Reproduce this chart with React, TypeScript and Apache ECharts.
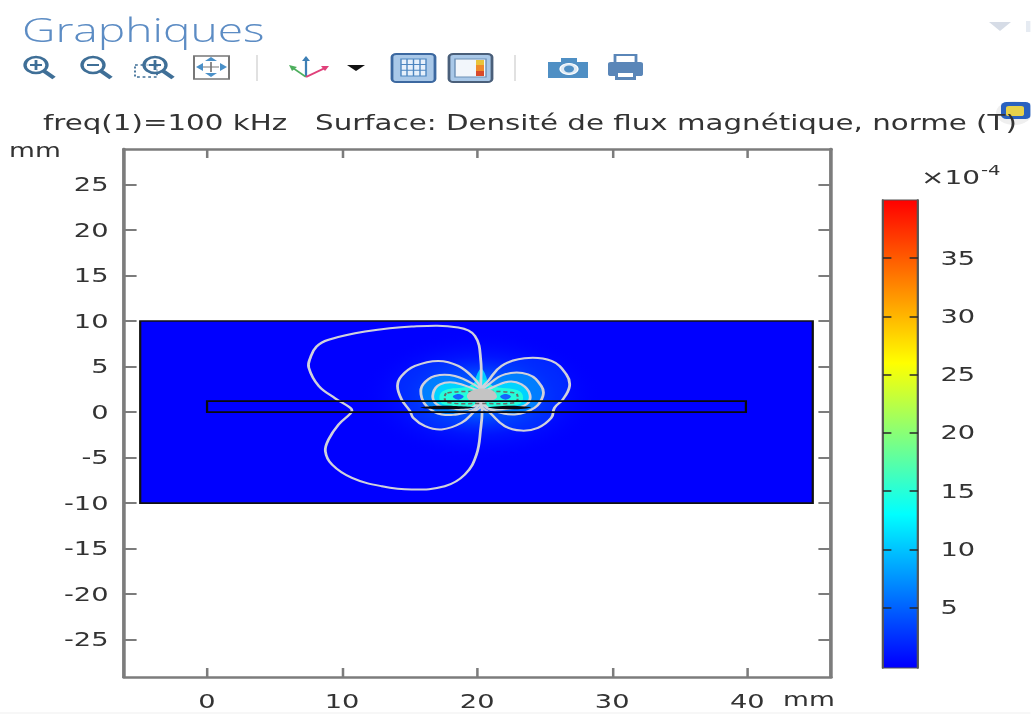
import React, { useEffect, useRef } from "react";
import * as echarts from "echarts";

const S = 1.4;
const X = (px: number) => px / S;

const titleText = "freq(1)=100 kHz   Surface: Densité de flux magnétique, norme (T)";
const xTicks = [0, 10, 20, 30, 40];
const yTicks = [-25, -20, -15, -10, -5, 0, 5, 10, 15, 20, 25];
const barTicks = [5, 10, 15, 20, 25, 30, 35];
const colorStops: [number, string][] = [[0, "#0000ff"], [13, "#00ffff"], [26, "#ffff00"], [40, "#ff0000"]];

const domainBox = [-4.95, -10, 44.85, 10];
const plateBox = [0, 0, 39.9, 1.2];

const outerContour = [[20.27, 2.5], [20.27, 5.62], [19.83, 8.37], [18.6, 9.29], [15.15, 9.4], [11.7, 8.85], [9, 7.95], [8.1, 7.2], [7.65, 5.98], [7.53, 4.88], [8.27, 2.86], [9.5, 1.5], [10.6, 0.48], [10.73, 0.18], [10.6, -0.18], [9.74, -1.36], [9, -3], [8.76, -4.3], [9.25, -5.76], [10.73, -7.23], [12.94, -8.15], [15.15, -8.51], [17.6, -8.15], [19.09, -6.86], [19.95, -4.66], [20.27, -1.73], [20.37, 0.11]];
const lobeLeft1 = [[20.3, 2.5], [19.83, 3.6], [18.6, 5.07], [17.12, 5.62], [15.4, 5.07], [14.4, 3.96], [14.1, 2.86], [14.4, 1.4], [15.03, 0.11], [15.27, -0.63], [16.14, -1.54], [17.37, -1.9], [18.85, -1.17], [19.83, 0.11], [20.3, 0.66]];
const lobeRight1 = [[20.3, 2.5], [20.81, 3.41], [21.8, 5.07], [23.5, 5.91], [25.5, 5.62], [26.6, 4.15], [26.84, 2.86], [26.35, 1.4], [25.73, 0.48], [25.49, -0.63], [24.5, -1.73], [23.27, -2.03], [22.04, -1.54], [20.93, -0.07], [20.3, 0.66]];
const lobeLeft2 = [[20.3, 2.3], [19.95, 2.86], [18.35, 3.97], [16.87, 3.97], [16, 3.05], [15.84, 1.95], [16.26, 0.66], [17.37, -0.26], [19.09, -0.07], [20.07, 0.66]];
const lobeRight2 = [[20.3, 2.3], [20.69, 2.86], [22.04, 4.15], [23.76, 4.15], [24.75, 2.86], [24.87, 1.77], [24.26, 0.48], [22.78, -0.26], [21.3, 0.11], [20.56, 0.66]];
const lobeLeft3 = [[20.3, 2.2], [19.83, 2.5], [18.35, 3.23], [17.25, 3.05], [16.75, 2.13], [16.88, 1.03], [17.74, 0.48], [19.6, 0.48]];
const lobeRight3 = [[20.3, 2.2], [20.8, 2.5], [22.3, 3.34], [23.27, 3.05], [23.9, 1.95], [23.65, 0.85], [22.54, 0.41], [20.8, 0.48]];
const coreBand = [[17.6, 2.4], [19.3, 2.8], [20.3, 3.6], [21.3, 2.8], [23, 2.4], [23.4, 1.6], [23, 0.8], [20.3, 0.6], [17.6, 0.8], [17.2, 1.6]];
const upperStreak = [[19.8, 2.5], [20.3, 4.8], [20.8, 2.5]];
const innerRing = [[17.8, 2.1], [20.3, 2.25], [22.8, 2.1], [23, 1.6], [22.8, 1.05], [20.3, 0.95], [17.8, 1.05], [17.6, 1.6]];
const holeLeft = [[18.2, 1.7], [18.6, 2], [19, 1.7], [18.6, 1.35]];
const holeRight = [[21.7, 1.7], [22.1, 2], [22.5, 1.7], [22.1, 1.35]];
const coreBlob = [[19.3, 2], [19.8, 2.45], [20.4, 2.6], [21, 2.45], [21.4, 2], [21.4, 1.5], [20.8, 1.2], [20.2, 1.15], [19.6, 1.2], [19.3, 1.5]];
const streakLeft = [[15.8, 0.5], [17.5, 0.7], [19.8, 0.5], [17.5, 0.3]];
const streakRight = [[20.8, 0.5], [22.5, 0.7], [24, 0.5], [22.5, 0.3]];

const bandFills: [number[][], number, number][] = [
  [lobeLeft1, 4, 0.45], [lobeRight1, 4, 0.45],
  [lobeLeft2, 7, 0.85], [lobeRight2, 7, 0.85],
  [lobeLeft3, 11, 0.95], [lobeRight3, 11, 0.95],
  [coreBand, 15, 0.95],
  [upperStreak, 12, 0.8],
];
const contourLines = [outerContour, lobeLeft1, lobeRight1, lobeLeft2, lobeRight2, lobeLeft3, lobeRight3];

function colorOf(v: number) {
  for (let i = 1; i < colorStops.length; i++) {
    if (v <= colorStops[i][0]) {
      const [a, ca] = colorStops[i - 1];
      const [b, cb] = colorStops[i];
      const t = (v - a) / (b - a);
      const p = (c: string, k: number) => parseInt(c.slice(k, k + 2), 16);
      const m = (k: number) => Math.round(p(ca, k) + (p(cb, k) - p(ca, k)) * t);
      return `rgb(${m(1)},${m(3)},${m(5)})`;
    }
  }
  return colorStops[colorStops.length - 1][1];
}

const polySeries = (name: string, items: { pts: number[][]; style: any; smooth?: number }[], z: number) => ({
  type: "custom", name, xAxisIndex: 0, yAxisIndex: 0, clip: true, z, silent: true,
  coordinateSystem: "cartesian2d",
  data: items.map((_, i) => [i]),
  renderItem: (_p: any, api: any) => {
    const it = items[api.value(0)];
    return { type: "polygon", shape: { points: it.pts.map((q) => api.coord(q)), smooth: it.smooth ?? 0.4 }, style: it.style };
  },
});

const boxSeries = (name: string, box: number[], style: any, z: number) => ({
  type: "custom", name, xAxisIndex: 0, yAxisIndex: 0, clip: false, z, silent: true,
  coordinateSystem: "cartesian2d",
  data: [box],
  renderItem: (_p: any, api: any) => {
    const a = api.coord([api.value(0), api.value(3)]);
    const b = api.coord([api.value(2), api.value(1)]);
    return { type: "rect", shape: { x: a[0], y: a[1], width: b[0] - a[0], height: b[1] - a[1] }, style };
  },
});

const iconBlue = "#3f6f97";
const line = (x1: number, y1: number, x2: number, y2: number, stroke: string, lineWidth = 2) => ({
  type: "line", shape: { x1: X(x1), y1, x2: X(x2), y2 }, style: { stroke, lineWidth }, silent: true,
});
const rect = (x: number, y: number, w: number, h: number, style: any, r = 0) => ({
  type: "rect", shape: { x: X(x), y, width: X(w), height: h, r }, style, silent: true,
});
const ell = (cx: number, cy: number, rx: number, ry: number, style: any) => ({
  type: "ellipse", shape: { cx: X(cx), cy, rx: X(rx), ry }, style, silent: true,
});
const tri = (pts: number[][], fill: string) => ({
  type: "polygon", shape: { points: pts.map(([a, b]) => [X(a), b]) }, style: { fill }, silent: true,
});
const magnifier = (cx: number, cy: number) => [
  ell(cx, cy, 11, 8, { fill: "rgba(255,255,255,0.6)", stroke: iconBlue, lineWidth: 2.4 }),
  line(cx + 8, cy + 6, cx + 18, cy + 13, iconBlue, 3.4),
];

const icons: any[] = [
  ...magnifier(36, 65), line(30, 65, 42, 65, iconBlue), line(36, 60, 36, 70, iconBlue),
  ...magnifier(93, 65), line(87, 65, 99, 65, iconBlue),
  rect(135, 65, 22, 12, { fill: "none", stroke: iconBlue, lineWidth: 1.3, lineDash: [2, 2] }),
  ...magnifier(155, 65), line(149, 65, 161, 65, iconBlue), line(155, 60, 155, 70, iconBlue),
  rect(194, 56, 35, 23, { fill: "#fff", stroke: "#777", lineWidth: 1.4 }),
  line(203, 67, 219, 67, "#777", 1.2), line(211, 62, 211, 72, "#777", 1.2),
  tri([[196, 67], [203, 63], [203, 71]], "#4a90c8"), tri([[227, 67], [220, 63], [220, 71]], "#4a90c8"),
  tri([[211, 57], [205, 61], [217, 61]], "#4a90c8"), tri([[211, 77], [205, 73], [217, 73]], "#4a90c8"),
  line(257, 55, 257, 81, "#dcdcdc", 1.2),
  line(306, 77, 306, 58, "#3d7fb5", 1.6), tri([[306, 56], [302, 61], [310, 61]], "#3d7fb5"),
  line(306, 77, 293, 68, "#4cae5c", 1.6), tri([[289, 65], [292, 71], [297, 67]], "#4cae5c"),
  line(306, 77, 325, 68, "#e0407a", 1.6), tri([[329, 66], [321, 66], [325, 71]], "#e0407a"),
  tri([[347, 65], [365, 65], [356, 71]], "#111"),
  rect(392, 54, 43, 28, { fill: "#a9c8e8", stroke: "#3c68a0", lineWidth: 2 }, 3),
  rect(401, 59, 25, 17, { fill: "#e6f0fb", stroke: "#4d86c0", lineWidth: 1 }),
  line(407, 59, 407, 76, "#4d86c0", 1), line(413.5, 59, 413.5, 76, "#4d86c0", 1), line(420, 59, 420, 76, "#4d86c0", 1),
  line(401, 64.6, 426, 64.6, "#4d86c0", 1), line(401, 70.3, 426, 70.3, "#4d86c0", 1),
  rect(449, 54, 43, 28, { fill: "#a9c8e8", stroke: "#4a5f7a", lineWidth: 2 }, 3),
  rect(455, 59, 31, 18, { fill: "#f2f6fb", stroke: "#6c8fb5", lineWidth: 1 }),
  rect(476, 60, 8, 5, { fill: "#e8c33a" }), rect(476, 65, 8, 6, { fill: "#ef8a2b" }), rect(476, 71, 8, 5, { fill: "#d94a2a" }),
  line(515, 55, 515, 81, "#dcdcdc", 1.2),
  rect(548, 62, 40, 16, { fill: "#4f8fc4" }), rect(561, 58, 16, 5, { fill: "#4f8fc4" }),
  ell(569, 69, 9, 5.5, { fill: "#dfeaf4", stroke: "#fff", lineWidth: 1 }), ell(569, 69, 5, 3.4, { fill: "#4f8fc4" }),
  rect(615, 55, 21, 8, { fill: "#fff", stroke: "#5a86b8", lineWidth: 2 }),
  rect(608, 62, 35, 14, { fill: "#5a86b8" }, 2), rect(615, 74, 21, 6, { fill: "#5a86b8" }),
  rect(618, 73, 15, 4, { fill: "#fff" }),
  tri([[989, 22], [1011, 22], [1000, 31]], "#d6dce6"),
  rect(1026, 21, 5, 11, { fill: "#e6ebf2" }),
  ell(1014, 113, 18, 12, { fill: "rgba(235,235,235,0.8)" }),
  rect(1001, 102, 30, 17, { fill: "#2a62c0" }, 4),
  rect(1006, 106, 18, 10, { fill: "#e8d24a" }, 2),
];

const texts: any[] = [
  { type: "text", x: X(22), y: 13, silent: true, style: { text: "Graphiques", fill: "#5c8cc4", font: '300 33px "Open Sans", "Noto Sans", sans-serif' } },
  { type: "text", x: X(9), y: 141, silent: true, style: { text: "mm", fill: "#333", font: '19px "DejaVu Sans"' } },
  { type: "text", x: X(783), y: 690, silent: true, style: { text: "mm", fill: "#333", font: '19px "DejaVu Sans"' } },
  { type: "text", x: X(921), y: 167, silent: true, style: { text: "×10", fill: "#333", font: '20px "DejaVu Sans"' } },
  { type: "text", x: X(981), y: 163, silent: true, style: { text: "-4", fill: "#333", font: '14px "DejaVu Sans"' } },
  line(0, 713, 1031, 713, "#efefef", 1.2),
];

const frameLine = { lineStyle: { color: "#7c7c7c", width: 2.6 }, onZero: false };
const tick = (vals: number[]) => ({ inside: true, length: 9, customValues: vals, lineStyle: { color: "#7c7c7c", width: 1.8 } });
const label = (vals: number[], margin: number) => ({
  customValues: vals, margin, color: "#333", fontFamily: "DejaVu Sans", fontSize: 19.5,
  formatter: (v: number) => String(v),
});

const gridTop = 149, gridBottom = 677, gridLeft = 124, gridRight = 831;

export default function App() {
  const ref = useRef<HTMLDivElement>(null);
  useEffect(() => {
    const chart = echarts.init(ref.current!, null, { renderer: "svg" });
    chart.setOption({
      animation: false,
      backgroundColor: "#fff",
      graphic: { elements: [...texts, ...icons] },
      title: { text: titleText, left: X(43), top: 112, padding: 0, textStyle: { color: "#333", fontFamily: "DejaVu Sans", fontSize: 20.95, fontWeight: "normal" } },
      grid: [
        { left: X(gridLeft), width: X(gridRight - gridLeft), top: gridTop, height: gridBottom - gridTop },
        { left: X(883), width: X(35), top: 200, height: 468 },
      ],
      xAxis: [
        { type: "value", gridIndex: 0, position: "bottom", min: -6.15, max: 46.2, axisLine: frameLine, axisTick: tick(xTicks), axisLabel: label(xTicks, 14), splitLine: { show: false } },
        { type: "value", gridIndex: 0, position: "top", min: -6.15, max: 46.2, axisLine: frameLine, axisTick: tick(xTicks), axisLabel: { show: false }, splitLine: { show: false } },
        { type: "value", gridIndex: 1, min: 0, max: 1, show: false },
      ],
      yAxis: [
        { type: "value", gridIndex: 0, position: "left", min: -29.1, max: 28.9, axisLine: frameLine, axisTick: tick(yTicks), axisLabel: label(yTicks, 11), splitLine: { show: false } },
        { type: "value", gridIndex: 0, position: "right", min: -29.1, max: 28.9, axisLine: frameLine, axisTick: tick(yTicks), axisLabel: { show: false }, splitLine: { show: false } },
        { type: "value", gridIndex: 1, position: "right", min: -0.2, max: 40, z: 5, axisLine: { show: true, onZero: false, lineStyle: { color: "#555", width: 1.4 } }, axisTick: { inside: true, length: 6, customValues: barTicks, lineStyle: { color: "rgba(40,40,40,0.75)", width: 2 } }, axisLabel: label(barTicks, 16), splitLine: { show: false } },
        { type: "value", gridIndex: 1, position: "left", min: -0.2, max: 40, z: 5, axisLine: { show: true, onZero: false, lineStyle: { color: "#555", width: 1.4 } }, axisTick: { inside: true, length: 6, customValues: barTicks, lineStyle: { color: "rgba(40,40,40,0.75)", width: 2 } }, axisLabel: { show: false }, splitLine: { show: false } },
      ],
      series: [
        boxSeries("domain", domainBox, { fill: "#0000ff", stroke: "#111", lineWidth: 1.6 }, 2),
        boxSeries("glow", [8, -10, 33, 10], {
          fill: new echarts.graphic.RadialGradient(0.49, 0.41, 0.36, [
            { offset: 0, color: "rgba(0,170,255,1)" },
            { offset: 0.3, color: "rgba(0,100,255,0.85)" },
            { offset: 0.6, color: "rgba(0,40,255,0.5)" },
            { offset: 1, color: "rgba(0,0,255,0)" },
          ]),
        }, 3),
        polySeries("bands", bandFills.map(([pts, v, a]) => ({ pts, style: { fill: colorOf(v), opacity: a } })), 4),
        polySeries("holes", [holeLeft, holeRight].map((pts) => ({ pts, style: { fill: "#1466ff" } })), 5),
        polySeries("contours", contourLines.map((pts) => ({ pts, style: { fill: "none", stroke: "#d0d1dc", lineWidth: 2 } })), 6),
        polySeries("inner", [{ pts: innerRing, style: { fill: "none", stroke: "#6a6a6a", lineWidth: 1.5, lineDash: [3, 2] } }], 7),
        polySeries("core", [{ pts: coreBlob, style: { fill: "#c4c4c4" } }], 8),
        polySeries("streaks", [streakLeft, streakRight].map((pts) => ({ pts, style: { fill: "#0a0a14" } })), 8),
        boxSeries("plate", plateBox, { fill: "none", stroke: "#0a0a0a", lineWidth: 1.6 }, 9),
        {
          type: "custom", name: "colorbar", coordinateSystem: "cartesian2d", xAxisIndex: 2, yAxisIndex: 2, silent: true, z: 2,
          data: [[0, 0, 1, 40]],
          renderItem: (_p: any, api: any) => {
            const a = api.coord([0, 40]);
            const b = api.coord([1, -0.2]);
            const span = 40.2;
            return {
              type: "rect", shape: { x: a[0], y: a[1], width: b[0] - a[0], height: b[1] - a[1] },
              style: {
                stroke: "#555", lineWidth: 1.2,
                fill: new echarts.graphic.LinearGradient(0, 1, 0, 0, colorStops.map(([v, color]) => ({ offset: (v + 0.2) / span, color }))),
              },
            };
          },
        },
      ],
    });
    return () => chart.dispose();
  }, []);
  return (
    <div
      ref={ref}
      style={{ position: "fixed", left: 0, top: 0, width: 1031 / S, height: 715, transform: `scaleX(${S})`, transformOrigin: "0 0", filter: "blur(0.5px)" }}
    />
  );
}
